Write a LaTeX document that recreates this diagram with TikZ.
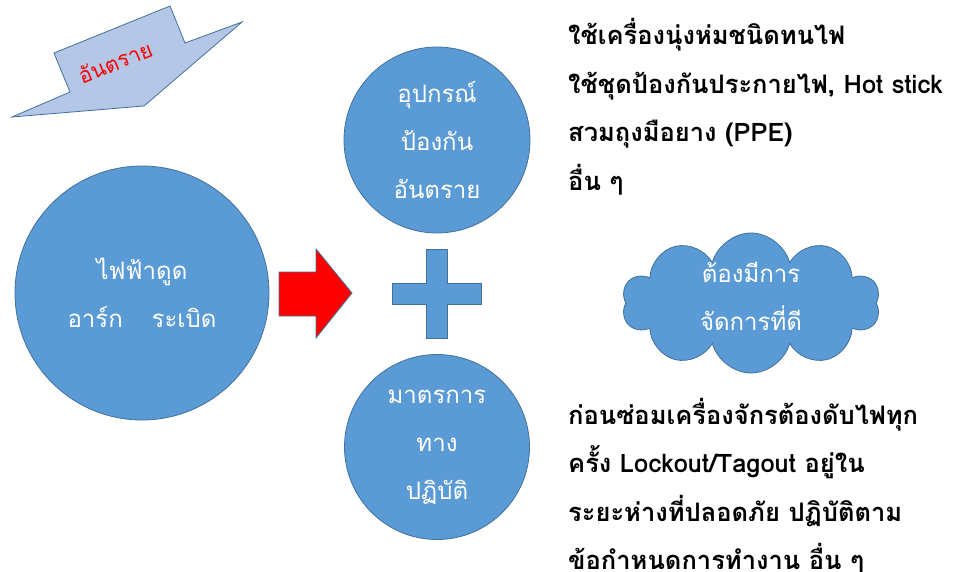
\documentclass[tikz,border=0pt]{standalone}
\usepackage{fontspec}
\newfontfamily\thai[Script=Thai]{Loma}
\usetikzlibrary{shapes.symbols}
\definecolor{obl}{HTML}{5B9BD5}
\definecolor{obd}{HTML}{41719C}
\definecolor{olb}{HTML}{B4C7E7}
\begin{document}
\begin{tikzpicture}[x=1pt,y=-1pt,
  ball/.style={circle, fill=obl, draw=obd, line width=0.8pt, inner sep=0pt, text=white,
    font=\thai\fontsize{24}{48}\selectfont, align=center},
  note/.style={anchor=west, font=\thai\bfseries\fontsize{25.5}{48.5}\selectfont, align=left, inner sep=0pt},
  shapeline/.style={draw=obd, line width=0.8pt, line join=miter}]
\useasboundingbox (0,0) rectangle (957,572);
% hazard arrow
\filldraw[shapeline, fill=olb] (54,53) -- (170,6) -- (185,43) -- (242,22) -- (144,106) -- (12,117) -- (70,92) -- cycle;
\node[rotate=22, text=red, font=\thai\fontsize{21.5}{21.5}\selectfont, inner sep=0pt] (hz) at (115,62) {อันตราย};
% main circle
\node[ball, minimum size=254pt] (elec) at (142,293) {ไฟฟ้าดูด\\อาร์ก\hspace{1.2em}ระเบิด};
% red arrow
\filldraw[shapeline, fill=red] (279,272) -- (316,272) -- (316,249) -- (352,293) -- (316,338) -- (316,316) -- (279,316) -- cycle;
% plus
\filldraw[shapeline, fill=obl] (426,249) -- (447,249) -- (447,283) -- (481,283) -- (481,304) -- (447,304) -- (447,338) -- (426,338) -- (426,304) -- (392,304) -- (392,283) -- (426,283) -- cycle;
% circles
\node[ball, minimum size=186pt] (ppe) at (437,140) {อุปกรณ์\\ป้องกัน\\อันตราย};
\node[ball, minimum size=185pt] (prac) at (437,447) {มาตรการ\\ทาง\\ปฏิบัติ};
% cloud
\node[cloud, cloud puffs=10, aspect=1.8, fill=obl, draw=obd, line width=0.8pt, minimum width=258pt, minimum height=140pt, inner sep=0pt] (cl) at (751,303) {};
\node[text=white, font=\thai\fontsize{24}{48}\selectfont, align=center, inner sep=0pt] (cltext) at (751,296) {ต้องมีการ\\จัดการที่ดี};
% notes
\node[note] (n1) at (568,107) {ใช้เครื่องนุ่งห่มชนิดทนไฟ\\ใช้ชุดป้องกันประกายไฟ, Hot stick\\สวมถุงมือยาง (PPE)\\อื่น ๆ};
\node[note] (n2) at (568,486) {ก่อนซ่อมเครื่องจักรต้องดับไฟทุก\\ครั้ง Lockout/Tagout อยู่ใน\\ระยะห่างที่ปลอดภัย ปฏิบัติตาม\\ข้อกำหนดการทำงาน อื่น ๆ};
\end{tikzpicture}
\end{document}
